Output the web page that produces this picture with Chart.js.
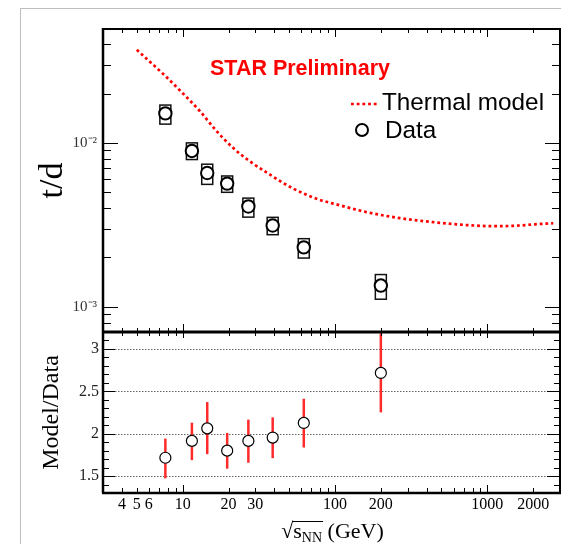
<!DOCTYPE html>
<html><head><meta charset="utf-8">
<script src="https://cdn.jsdelivr.net/npm/chart.js@4.4.1/dist/chart.umd.min.js"></script>
<style>
html,body{margin:0;padding:0;background:#fff;}
#wrap{position:relative;width:561px;height:544px;overflow:hidden;background:#fff;}
#border{position:absolute;left:20px;top:8px;width:700px;height:700px;border-left:1px solid #bdbdbd;border-top:1px solid #bdbdbd;}
#top{position:absolute;left:0;top:0;width:561px;height:334px;}
#bot{position:absolute;left:0;top:330px;width:561px;height:214px;}
</style></head><body>
<div id="wrap"><div id="border"></div>
<div id="top"><canvas id="c1"></canvas></div>
<div id="bot"><canvas id="c2"></canvas></div></div>
<script>
// ---- data ----
const energies = [7.7, 11.5, 14.5, 19.6, 27, 39, 62.4, 200];
const tdRatio = [0.01514, 0.00893, 0.00655, 0.00564, 0.00409, 0.00313, 0.00230, 0.001345];
const tdSysLow = [0.01302, 0.00791, 0.00558, 0.00499, 0.00352, 0.00275, 0.00198, 0.00111];
const tdSysHigh = [0.01702, 0.01000, 0.00741, 0.00628, 0.00460, 0.00351, 0.00260, 0.00157];
const modelEnergies = [5, 7.7, 9.6, 13, 16.7, 21.5, 27.7, 37.4, 53.2, 77.6, 97.5, 161, 267, 442, 732, 1095, 1559, 2006, 2710];
const modelTd = [0.0370, 0.0256, 0.0209, 0.0156, 0.0118, 0.0093, 0.0077, 0.0064, 0.00526, 0.00452, 0.00426, 0.00378, 0.00347, 0.00328, 0.00315, 0.00310, 0.00312, 0.00318, 0.00323];
const modelOverData = [1.716, 1.915, 2.063, 1.80, 1.915, 1.954, 2.127, 2.717];
const ratioErrLow = [1.473, 1.688, 1.758, 1.587, 1.657, 1.711, 1.837, 2.251];
const ratioErrHigh = [1.942, 2.130, 2.373, 2.009, 2.166, 2.193, 2.412, 3.183];
const xTickLabels = [4, 5, 6, 10, 20, 30, 100, 200, 1000, 2000];
const yTopTicks = [0.001, 0.01];
const yBottomTicks = [1.5, 2, 2.5, 3];
const labelModel = 'Thermal model';
const labelData = 'Data';
const labelStar = 'STAR Preliminary';
const titleTop = 't/d';
const titleBottom = 'Model/Data';

// ---- helpers ----
const SERIF = "'Liberation Serif', 'Times New Roman', serif";
const SANS = "'Liberation Sans', Arial, sans-serif";
const RED = '#ff0000';
const sup = {'-':'\u207B','0':'\u2070','1':'\u00B9','2':'\u00B2','3':'\u00B3','4':'\u2074','5':'\u2075','6':'\u2076','7':'\u2077','8':'\u2078','9':'\u2079'};
function powLabel(v){ const e = Math.round(Math.log10(v)); return '10' + String(e).split('').map(c=>sup[c]).join(''); }
function line(ctx,x1,y1,x2,y2){ ctx.beginPath(); ctx.moveTo(x1,y1); ctx.lineTo(x2,y2); ctx.stroke(); }
const X_MIN = 3, X_MAX = 3000;
const xMajor = [10, 100, 1000];
const xMinor = [];
[1,10,100,1000].forEach(d=>{ for(let m=2;m<=9;m++){ const v=m*d; if(v>X_MIN*1.001 && v<X_MAX*0.999) xMinor.push(v);} });
const Y1_MIN = 0.0007, Y1_MAX = 0.0496;
const y1Minor = [];
[1e-4,1e-3,1e-2].forEach(d=>{ for(let m=2;m<=9;m++){ const v=m*d; if(v>Y1_MIN*1.01 && v<Y1_MAX) y1Minor.push(v);} });
const Y2_MIN = 1.3, Y2_MAX = 3.2;

// ---- top panel ----
const topPlugin = {
  id: 'topDeco',
  beforeDatasetsDraw(chart){
    const ctx = chart.ctx, xs = chart.scales.x, ys = chart.scales.y;
    ctx.save();
    ctx.strokeStyle = '#111'; ctx.lineWidth = 1.5;
    energies.forEach((e,i)=>{
      const px = xs.getPixelForValue(e);
      const y1 = ys.getPixelForValue(tdSysHigh[i]);
      const y2 = ys.getPixelForValue(tdSysLow[i]);
      ctx.strokeRect(px-5.5, y1, 11, y2-y1);
    });
    ctx.restore();
  },
  afterDraw(chart){
    const ctx = chart.ctx, xs = chart.scales.x, ys = chart.scales.y;
    const {left,right,top,bottom} = chart.chartArea;
    ctx.save();
    ctx.strokeStyle = '#000'; ctx.lineWidth = 1;
    xMinor.forEach(v=>{ const p = Math.round(xs.getPixelForValue(v))+0.5; line(ctx,p,top,p,top+4); line(ctx,p,bottom,p,bottom-4); });
    xMajor.forEach(v=>{ const p = Math.round(xs.getPixelForValue(v))+0.5; line(ctx,p,top,p,top+8); line(ctx,p,bottom,p,bottom-8); });
    y1Minor.forEach(v=>{ const p = Math.round(ys.getPixelForValue(v))+0.5; line(ctx,left,p,left+8,p); line(ctx,right,p,right-8,p); });
    yTopTicks.forEach(v=>{ const p = Math.round(ys.getPixelForValue(v))+0.5; line(ctx,left,p,left+15,p); line(ctx,right,p,right-15,p); });
    // frame
    ctx.lineWidth = 2;
    line(ctx,left,top,right+1,top);
    line(ctx,right,top,right,bottom);
    ctx.lineWidth = 2.5;
    line(ctx,left,top-1,left,bottom);
    // STAR Preliminary
    ctx.fillStyle = RED;
    ctx.font = 'bold 21.5px ' + SANS;
    ctx.textBaseline = 'alphabetic'; ctx.textAlign = 'left';
    ctx.fillText(labelStar, 210, 75);
    // legend
    const ds = chart.data.datasets;
    ctx.strokeStyle = RED; ctx.lineWidth = 2.7; ctx.setLineDash([2.8, 2.9]);
    line(ctx, 351, 104, 377, 104);
    ctx.setLineDash([]);
    ctx.fillStyle = '#000';
    ctx.font = '24.3px ' + SANS;
    ctx.fillText(ds[0].label, 382, 110);
    ctx.strokeStyle = '#000'; ctx.lineWidth = 2;
    ctx.beginPath(); ctx.arc(362, 130, 6, 0, Math.PI*2); ctx.stroke();
    ctx.fillText(ds[1].label, 385, 138);
    ctx.restore();
  }
};

new Chart(document.getElementById('c1'), {
  type: 'scatter',
  data: {
    datasets: [
      { label: labelModel, data: modelEnergies.map((x,i)=>({x, y: modelTd[i]})), showLine: true,
        borderColor: RED, borderWidth: 2.7, borderDash: [2.8, 2.9], pointRadius: 0, cubicInterpolationMode: 'monotone', fill: false, order: 2 },
      { label: labelData, data: energies.map((x,i)=>({x, y: tdRatio[i]})), showLine: false,
        pointStyle: 'circle', pointRadius: 6.2, borderWidth: 2, borderColor: '#000', backgroundColor: '#fff', order: 1 }
    ]
  },
  options: {
    responsive: true, maintainAspectRatio: false, animation: false, events: [],
    layout: { autoPadding: false, padding: { top: 29, right: 1, bottom: 2, left: 0 } },
    plugins: { legend: { display: false }, tooltip: { enabled: false } },
    scales: {
      x: { type: 'logarithmic', min: X_MIN, max: X_MAX, display: false },
      y: { type: 'logarithmic', min: Y1_MIN, max: Y1_MAX, position: 'left',
        afterBuildTicks: s => { s.ticks = yTopTicks.map(v=>({value: v})); },
        afterFit: s => { s.width = 103; s.paddingTop = 0; s.paddingBottom = 0; },
        grid: { display: false, drawTicks: false }, border: { display: false },
        ticks: { font: { family: SERIF, size: 15 }, color: '#333', padding: 6, callback: v => powLabel(v) },
        title: { display: true, text: titleTop, color: '#000', font: { family: SERIF, size: 34 }, padding: { top: 33, bottom: 0 } }
      }
    }
  },
  plugins: [topPlugin]
});

// ---- bottom panel ----
const botPlugin = {
  id: 'botDeco',
  beforeDatasetsDraw(chart){
    const ctx = chart.ctx, xs = chart.scales.x, ys = chart.scales.y;
    const {left,right,top,bottom} = chart.chartArea;
    ctx.save();
    ctx.strokeStyle = '#666'; ctx.lineWidth = 1; ctx.setLineDash([1.5, 1.5]);
    yBottomTicks.forEach(v=>{ const p = Math.round(ys.getPixelForValue(v))+0.5; line(ctx,left,p,right,p); });
    ctx.setLineDash([]);
    ctx.beginPath(); ctx.rect(left, top, right-left, bottom-top); ctx.clip();
    ctx.strokeStyle = '#ff2a2a'; ctx.lineWidth = 2.5;
    energies.forEach((e,i)=>{
      const px = xs.getPixelForValue(e);
      line(ctx, px, ys.getPixelForValue(ratioErrHigh[i]), px, ys.getPixelForValue(ratioErrLow[i]));
    });
    ctx.restore();
  },
  afterDraw(chart){
    const ctx = chart.ctx, xs = chart.scales.x, ys = chart.scales.y;
    const {left,right,top,bottom} = chart.chartArea;
    ctx.save();
    ctx.strokeStyle = '#000'; ctx.lineWidth = 1;
    xMinor.forEach(v=>{ const p = Math.round(xs.getPixelForValue(v))+0.5; line(ctx,p,top,p,top+4); line(ctx,p,bottom,p,bottom-5); });
    xMajor.forEach(v=>{ const p = Math.round(xs.getPixelForValue(v))+0.5; line(ctx,p,top,p,top+6); line(ctx,p,bottom,p,bottom-8); });
    for (let k = 14; k <= 32; k++) {
      const v = k/10; const p = Math.round(ys.getPixelForValue(v))+0.5;
      if (k % 5 === 0) { line(ctx,left,p,left+12,p); line(ctx,right,p,right-13,p); }
      else { line(ctx,left,p,left+6,p); line(ctx,right,p,right-6,p); }
    }
    // frame
    ctx.lineWidth = 3; line(ctx,left-1,top,right+1,top);
    ctx.lineWidth = 2.5; line(ctx,left-1,bottom,right+1,bottom);
    line(ctx,left,top,left,bottom);
    ctx.lineWidth = 2; line(ctx,right,top,right,bottom);
    // x axis title: sqrt(s_NN) (GeV)
    const base = 208;
    const fBig = '22px ' + SERIF, fSmall = '14px ' + SERIF;
    ctx.font = fBig;
    const wRad = ctx.measureText('\u221A').width;
    const wS = ctx.measureText('s').width;
    const wGeV = ctx.measureText(' (GeV)').width;
    ctx.font = fSmall; const wNN = ctx.measureText('NN').width;
    const total = wRad + wS + wNN + wGeV;
    let x = (left+right)/2 - total/2 + 1;
    ctx.fillStyle = '#000'; ctx.textBaseline = 'alphabetic'; ctx.textAlign = 'left';
    ctx.font = fBig; ctx.fillText('\u221A', x, base);
    const ox = x + wRad - 1;
    x += wRad; ctx.fillText('s', x, base);
    x += wS; ctx.font = fSmall; ctx.fillText('NN', x, base + 4);
    x += wNN;
    ctx.lineWidth = 1; line(ctx, ox, base - 16.5, x + 1, base - 16.5);
    ctx.font = fBig; ctx.fillText(' (GeV)', x, base);
    ctx.restore();
  }
};

new Chart(document.getElementById('c2'), {
  type: 'scatter',
  data: {
    datasets: [
      { label: titleBottom, data: energies.map((x,i)=>({x, y: modelOverData[i]})), showLine: false,
        pointStyle: 'circle', pointRadius: 5.5, borderWidth: 1.2, borderColor: '#000', backgroundColor: '#fff' }
    ]
  },
  options: {
    responsive: true, maintainAspectRatio: false, animation: false, events: [],
    layout: { autoPadding: false, padding: { top: 2, right: 1, bottom: 0, left: 0 } },
    plugins: { legend: { display: false }, tooltip: { enabled: false } },
    scales: {
      x: { type: 'logarithmic', min: X_MIN, max: X_MAX, position: 'bottom',
        afterBuildTicks: s => { s.ticks = xTickLabels.map(v=>({value: v})); },
        afterFit: s => { s.height = 51; s.paddingLeft = 0; s.paddingRight = 0; },
        grid: { display: false, drawTicks: false }, border: { display: false },
        ticks: { font: { family: SERIF, size: 16 }, color: '#000', padding: 2, maxRotation: 0, autoSkip: false, callback: v => String(v) }
      },
      y: { type: 'linear', min: Y2_MIN, max: Y2_MAX, position: 'left',
        afterBuildTicks: s => { s.ticks = yBottomTicks.map(v=>({value: v})); },
        afterFit: s => { s.width = 103; s.paddingTop = 0; s.paddingBottom = 0; },
        grid: { display: false, drawTicks: false }, border: { display: false },
        ticks: { font: { family: SERIF, size: 16 }, color: '#222', padding: 4, callback: v => String(v) },
        title: { display: true, text: titleBottom, color: '#000', font: { family: SERIF, size: 24 }, padding: { top: 37, bottom: 0 } }
      }
    }
  },
  plugins: [botPlugin]
});
</script>
</body></html>
